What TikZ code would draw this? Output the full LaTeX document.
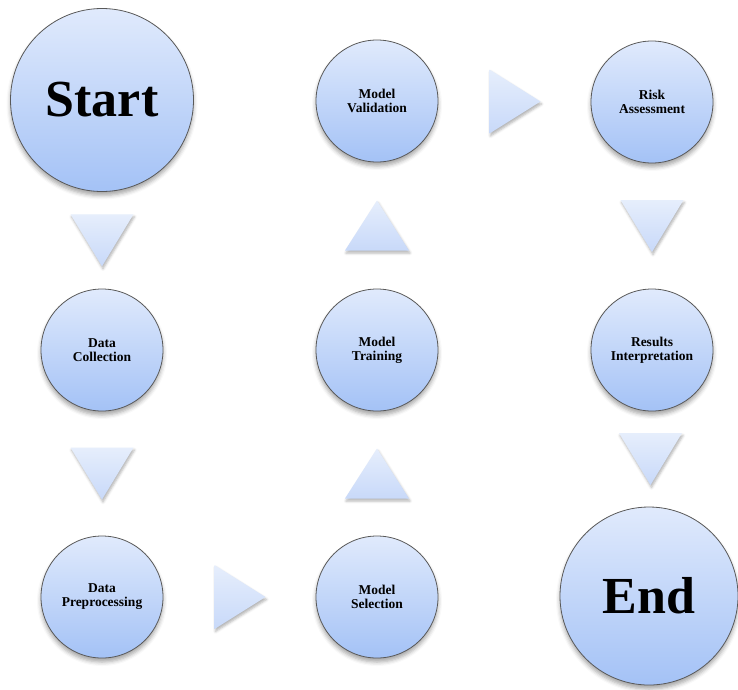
\documentclass[tikz,border=0pt]{standalone}
\usepackage{fontspec}
\setmainfont{Liberation Serif}
\usetikzlibrary{calc,shadows.blur}
\definecolor{ctop}{HTML}{E0EAFC}
\definecolor{cbot}{HTML}{A4C2F6}
\definecolor{ttop}{HTML}{E6EEFC}
\definecolor{tbot}{HTML}{C8D9F9}
\tikzset{
  stepnode/.style={circle, inner sep=0pt, minimum size=122pt, top color=ctop, bottom color=cbot,
    draw=black!65, line width=0.8pt, align=center, font=\bfseries\fontsize{13.5}{14}\selectfont,
    blur shadow={shadow xshift=0pt, shadow yshift=-4pt, shadow blur radius=4pt, shadow opacity=35}},
  bignode/.style={stepnode, minimum size=183pt, font=\bfseries\fontsize{52}{56}\selectfont},
  tri/.style={top color=ttop, bottom color=tbot,
    blur shadow={shadow xshift=1pt, shadow yshift=-2.5pt, shadow blur radius=2.5pt, shadow opacity=30}}
}
\newcommand\downtri[1]{\path[tri] ([shift={(-31.5,-26)}]#1) -- ([shift={(31.5,-26)}]#1) -- ([shift={(0,26)}]#1) -- cycle;}
\newcommand\uptri[1]{\path[tri] ([shift={(-32,25)}]#1) -- ([shift={(32,25)}]#1) -- ([shift={(0,-25)}]#1) -- cycle;}
\newcommand\righttri[1]{\path[tri] ([shift={(-25,-32)}]#1) -- ([shift={(26,0)}]#1) -- ([shift={(-25,32)}]#1) -- cycle;}
\begin{document}
\begin{tikzpicture}[x=1pt,y=-1pt]
\useasboundingbox (0,0) rectangle (738,689);
\node[bignode] (start) at (102,100) {Start};
\node[stepnode] (dc) at (102,350) {Data\\Collection};
\node[stepnode] (dp) at (102,597) {Data\\Preprocessing};
\node[stepnode] (ms) at (377,597) {Model\\Selection};
\node[stepnode] (mt) at (377,350) {Model\\Training};
\node[stepnode] (mv) at (377,101) {Model\\Validation};
\node[stepnode] (ra) at (652,102) {Risk\\Assessment};
\node[stepnode] (ri) at (652,350) {Results\\Interpretation};
\node[bignode, minimum size=178pt] (end) at (649,596) {End};
\coordinate (a1) at ($(start.south)!0.5!(dc.north)$);
\coordinate (a2) at ($(dc.south)!0.5!(dp.north)$);
\coordinate (a3) at ($(dp.east)!0.5!(ms.west)$);
\coordinate (a4) at ($(ms.north)!0.5!(mt.south)$);
\coordinate (a5) at ($(mt.north)!0.5!(mv.south)$);
\coordinate (a6) at ($(mv.east)!0.5!(ra.west)$);
\coordinate (a7) at ($(ra.south)!0.5!(ri.north)$);
\coordinate (a8) at ($(ri.south)!0.5!(end.north)$);
\downtri{a1}
\downtri{a2}
\righttri{a3}
\uptri{a4}
\uptri{a5}
\righttri{a6}
\downtri{a7}
\downtri{a8}
\end{tikzpicture}
\end{document}
